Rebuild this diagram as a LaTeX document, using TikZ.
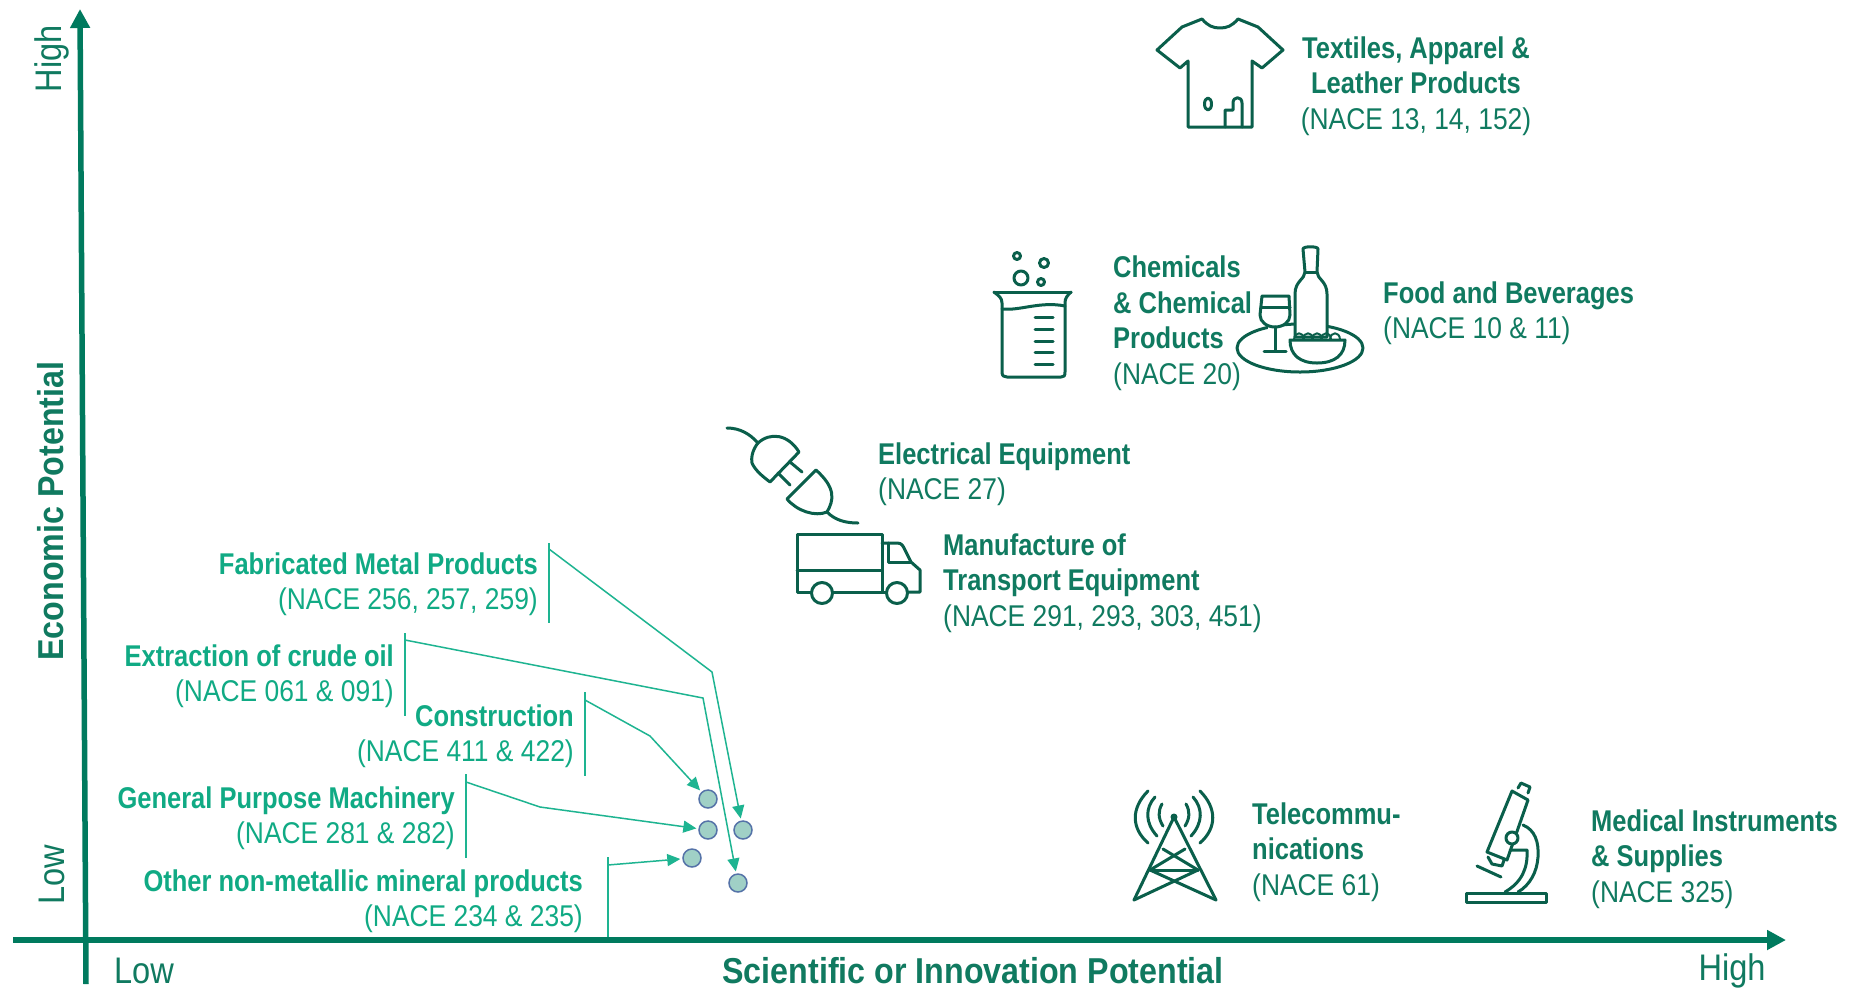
\documentclass[tikz,border=0pt]{standalone}
\usepackage{fontspec}
\usepackage{tikz}
\usetikzlibrary{arrows.meta}
\setmainfont[FakeStretch=0.88,BoldFeatures={FakeStretch=0.85}]{Liberation Sans}
\newfontfamily\titlefont[FakeStretch=0.895,BoldFeatures={FakeStretch=0.895}]{Liberation Sans}
\definecolor{axisc}{RGB}{0,122,94}
\definecolor{iconc}{RGB}{10,95,75}
\definecolor{darkt}{RGB}{16,122,96}
\definecolor{lightt}{RGB}{16,170,132}
\definecolor{linec}{RGB}{30,180,145}
\definecolor{dotf}{RGB}{160,208,198}
\definecolor{dots}{RGB}{85,115,168}
\tikzset{
  x=1pt,y=-1pt,
  icon/.style={draw=iconc,line width=3pt,line join=round,line cap=round},
  dlabel/.style={text=darkt,font=\fontsize{30}{35.5}\selectfont,inner sep=0pt,align=left,anchor=west},
  dclabel/.style={dlabel,align=center,anchor=center},
  llabel/.style={text=lightt,font=\fontsize{30}{35.5}\selectfont,inner sep=0pt,align=right,anchor=east},
  axlabel/.style={text=darkt,font=\fontsize{37}{40}\selectfont,inner sep=0pt},
  axtitle/.style={text=darkt,font=\titlefont\fontsize{36}{40}\selectfont\bfseries,inner sep=0pt},
  axisline/.style={draw=axisc,line width=5.5pt,-{Triangle[length=19pt,width=19pt]}},
  dotn/.style={circle,draw=dots,fill=dotf,line width=1.5pt,minimum size=18pt,inner sep=0pt},
  brk/.style={draw=linec,line width=1.5pt},
  conn/.style={draw=linec,line width=1.5pt,-{Triangle[length=13pt,width=12pt]},fill=none,shorten >=2pt},
}
\begin{document}
\begin{tikzpicture}
\useasboundingbox (0,0) rectangle (1850,989);
\fill[white] (0,0) rectangle (1850,989);
% axes
\coordinate (xs) at (13,940); \coordinate (xe) at (1786,940);
\coordinate (ys) at (86,984); \coordinate (ye) at (80,9);
\draw[axisline] (xs) -- (xe);
\draw[axisline] (ys) -- (ye);
% axis labels
\node[axlabel,rotate=90] (yhigh) at (52,59) {High};
\node[axlabel,rotate=90] (ylow) at (52,875) {Low};
\node[axlabel] (xlow) at (144,971) {Low};
\node[axlabel] (xhigh) at (1732,971) {High};
\node[axtitle,rotate=90] (ytitle) at (51,511) {Economic Potential};
\node[axtitle] (xtitle) at (973,971) {Scientific or Innovation Potential};
% labels right
\node[dclabel] (textiles) at (1416,86) {\textbf{Textiles, Apparel \&}\\\textbf{Leather Products}\\(NACE 13, 14, 152)};
\node[dlabel] (chem) at (1113,323) {\textbf{Chemicals}\\\textbf{\& Chemical}\\\textbf{Products}\\(NACE 20)};
\node[dlabel] (food) at (1383,313) {\textbf{Food and Beverages}\\(NACE 10 \& 11)};
\node[dlabel] (elec) at (878,474) {\textbf{Electrical Equipment}\\(NACE 27)};
\node[dlabel] (transp) at (943,583) {\textbf{Manufacture of}\\\textbf{Transport Equipment}\\(NACE 291, 293, 303, 451)};
\node[dlabel] (tele) at (1252,852) {\textbf{Telecommu-}\\\textbf{nications}\\(NACE 61)};
\node[dlabel] (med) at (1591,859) {\textbf{Medical Instruments}\\\textbf{\& Supplies}\\(NACE 325)};
% labels left
\node[llabel] (fab) at (538,584) {\textbf{Fabricated Metal Products}\\(NACE 256, 257, 259)};
\node[llabel] (oil) at (394,676) {\textbf{Extraction of crude oil}\\(NACE 061 \& 091)};
\node[llabel] (constr) at (574,736) {\textbf{Construction}\\(NACE 411 \& 422)};
\node[llabel] (mach) at (455,818) {\textbf{General Purpose Machinery}\\(NACE 281 \& 282)};
\node[llabel] (other) at (583,901) {\textbf{Other non-metallic mineral products}\\(NACE 234 \& 235)};
% dots
\node[dotn] (d1) at (708,799) {};
\node[dotn] (d2) at (708,830) {};
\node[dotn] (d3) at (743,830) {};
\node[dotn] (d4) at (692,858) {};
\node[dotn] (d5) at (738,883) {};
% brackets
\coordinate (bfabT) at (549,543); \coordinate (bfabB) at (549,623); \coordinate (bfab) at (549,549);
\coordinate (boilT) at (405,633); \coordinate (boilB) at (405,716); \coordinate (boil) at (405,640);
\coordinate (bconT) at (585,692); \coordinate (bconB) at (585,776); \coordinate (bcon) at (585,700);
\coordinate (bmacT) at (466,774); \coordinate (bmacB) at (466,858); \coordinate (bmac) at (466,782);
\coordinate (bothT) at (608,857); \coordinate (bothB) at (608,937); \coordinate (both) at (608,865);
\draw[brk] (bfabT) -- (bfabB);
\draw[brk] (boilT) -- (boilB);
\draw[brk] (bconT) -- (bconB);
\draw[brk] (bmacT) -- (bmacB);
\draw[brk] (bothT) -- (bothB);
\coordinate (kfab) at (712,672);
\coordinate (koil) at (703,698);
\coordinate (kcon) at (650,736);
\coordinate (kmac) at (540,807);
\draw[conn] (bfab) -- (kfab) -- (d3);
\draw[conn] (boil) -- (koil) -- (d5);
\draw[conn] (bcon) -- (kcon) -- (d1);
\draw[conn] (bmac) -- (kmac) -- (d2);
\draw[conn] (both) -- (d4);
% t-shirt
\draw[icon] (1202,19) .. controls (1208,26) and (1213,28) .. (1220,28) .. controls (1227,28) and (1232,26) .. (1238,19) -- (1258,27) -- (1283,50) -- (1262,68) -- (1252,61) -- (1252,127) -- (1188,127) -- (1188,61) -- (1180,68) -- (1157,50) -- (1182,27) -- cycle;
\draw[icon] (1208,104) circle[x radius=3.5,y radius=6];
\draw[icon] (1225,127) -- (1225,110) -- (1233,110) -- (1233,103) .. controls (1233,96) and (1242,96) .. (1242,103) -- (1242,127);
% beaker
\draw[icon] (994,292) -- (1071,292);
\draw[icon] (994,292) .. controls (999,296) and (1002,298) .. (1002,303) -- (1002,372) .. controls (1002,376) and (1004,377) .. (1007,377) -- (1061,377) .. controls (1064,377) and (1065,376) .. (1065,372) -- (1065,303) .. controls (1065,298) and (1067,296) .. (1071,292);
\draw[icon] (1002,309) .. controls (1020,311) and (1040,301) .. (1065,306);
\foreach \ty in {317,329,341,352,364}{\draw[icon] (1035,\ty) -- (1053,\ty);}
\draw[icon] (1017,256) circle[radius=3.5];
\draw[icon] (1044,263) circle[radius=4.5];
\draw[icon] (1021,278) circle[radius=7];
\draw[icon] (1041,282) circle[radius=3.5];
% food: plate
\draw[icon] (1300,348) circle[x radius=63,y radius=24];
% glass
\fill[white] (1268,327) rectangle (1282,352);
\draw[icon,fill=white] (1262,296) -- (1289,296) -- (1290,315) .. controls (1290,322) and (1283,327) .. (1275,327) .. controls (1267,327) and (1260,322) .. (1260,315) -- cycle;
\draw[icon] (1261,307) -- (1290,307);
\draw[icon] (1275,327) -- (1275,351);
\draw[icon] (1264,351) -- (1286,351);
% bottle
\draw[icon,fill=white] (1303,249) .. controls (1303,246) and (1318,246) .. (1318,249) -- (1317,272) .. controls (1317,279) and (1327,281) .. (1327,294) -- (1327,337) -- (1295,337) -- (1295,294) .. controls (1295,281) and (1305,279) .. (1305,272) -- cycle;
\draw[icon] (1305,272) -- (1317,272);
% bowl
\draw[icon,fill=white] (1290,340) .. controls (1290,355) and (1300,363) .. (1317,363) .. controls (1335,363) and (1345,355) .. (1345,340) -- cycle;
\foreach \bx in {1299,1308,1317,1326,1335}{\draw[icon,line width=2pt] (\bx-5,340) .. controls (\bx-5,331) and (\bx+5,331) .. (\bx+5,340);}
% plug
\draw[icon] (727,428) .. controls (740,428) and (750,434) .. (758,443);
\draw[icon] (799,452) -- (770,482) .. controls (762,476) and (755,470) .. (752,463) .. controls (750,452) and (758,443) .. (758,443) .. controls (770,432) and (788,434) .. (799,452);
\draw[icon] (790,462) -- (802,472);
\draw[icon] (778,473) -- (790,485);
\draw[icon] (816,470) -- (787,499) .. controls (797,511) and (815,517) .. (827,512) .. controls (834,500) and (836,488) .. (816,470);
\draw[icon] (827,512) .. controls (835,520) and (845,523) .. (858,523);
% truck
\draw[icon] (812,592) -- (797,592) -- (797,534) -- (882,534) -- (882,592);
\draw[icon] (797,570) -- (882,570);
\draw[icon] (833,592) -- (886,592);
\draw[icon] (882,543) -- (897,543) .. controls (902,543) and (903,546) .. (905,550) -- (911,562) -- (920,570) -- (920,592) -- (908,592);
\draw[icon] (888,543) -- (888,562) -- (911,562);
\draw[icon,fill=white] (822,593) circle[radius=10.5];
\draw[icon,fill=white] (897,593) circle[radius=10.5];
% tower
\fill[iconc] (1174,817) circle[radius=3.5];
\draw[icon] (1134,900) -- (1174,817) -- (1216,900);
\draw[icon] (1134,900) -- (1198,870) -- (1163,849);
\draw[icon] (1216,900) -- (1150,870) -- (1185,849);
\draw[icon] (1150,870) -- (1198,870);
\draw[icon] (1162,804) .. controls (1158,811) and (1158,818) .. (1163,826);
\draw[icon] (1186,804) .. controls (1190,811) and (1190,818) .. (1185,826);
\draw[icon] (1155,797) .. controls (1145,808) and (1145,823) .. (1157,836);
\draw[icon] (1193,797) .. controls (1203,808) and (1203,823) .. (1191,836);
\draw[icon] (1148,791) .. controls (1131,808) and (1131,828) .. (1148,843);
\draw[icon] (1200,791) .. controls (1217,808) and (1217,828) .. (1200,843);
% microscope
\draw[icon] (1512,791) -- (1528,800) -- (1507,860) -- (1487,852) -- cycle;
\draw[icon] (1518,788) -- (1521,783) -- (1530,787) -- (1528,793);
\draw[icon] (1488,857) -- (1492,864) -- (1502,866) -- (1504,860);
\draw[icon] (1477,866) -- (1501,877);
\draw[icon] (1523,825) .. controls (1535,830) and (1539,842) .. (1538,857) .. controls (1537,872) and (1530,885) .. (1518,892);
\draw[icon] (1510,850) -- (1527,850) .. controls (1528,868) and (1522,882) .. (1505,892);
\draw[icon,fill=white] (1512,838) circle[radius=6];
\draw[icon] (1466,893) rectangle (1546,902);
\end{tikzpicture}
\end{document}
